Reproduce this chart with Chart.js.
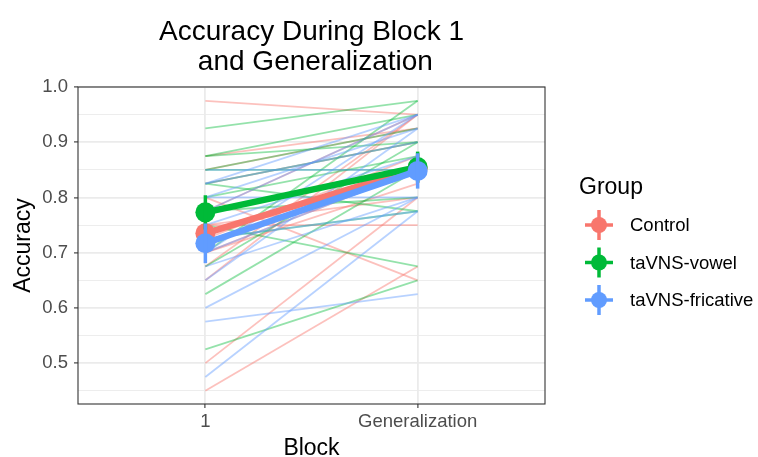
<!DOCTYPE html>
<html><head><meta charset="utf-8">
<script src="https://cdn.jsdelivr.net/npm/chart.js@4/dist/chart.umd.min.js"></script>
<style>html,body{margin:0;padding:0;background:#fff}#wrap{width:758px;height:457px}</style>
</head><body><div id="wrap"><canvas id="c" width="758" height="457"></canvas></div>
<script>
// ---------- data ----------
const blocks = ["1", "Generalization"];
const groups = ["Control", "taVNS-vowel", "taVNS-fricative"];
const groupColors = ["#F8766D", "#00BA38", "#619CFF"];
const groupFaint = ["rgba(248,118,109,0.45)", "rgba(0,186,56,0.42)", "rgba(97,156,255,0.45)"];

// individual participants: accuracy at Block 1 and at Generalization
const controlBlock1 = [0.975, 0.875, 0.85, 0.825, 0.80, 0.775, 0.75, 0.725, 0.70, 0.65, 0.70, 0.75, 0.50, 0.45, 0.675];
const controlGen    = [0.95, 0.925, 0.925, 0.90, 0.65, 0.95, 0.75, 0.875, 0.85, 0.95, 0.825, 0.80, 0.80, 0.675, 0.95];
const vowelBlock1   = [0.925, 0.875, 0.875, 0.85, 0.85, 0.825, 0.80, 0.775, 0.75, 0.725, 0.70, 0.675, 0.625, 0.525, 0.825];
const vowelGen      = [0.975, 0.90, 0.95, 0.925, 0.85, 0.90, 0.875, 0.80, 0.675, 0.775, 0.975, 0.90, 0.85, 0.65, 0.775];
const fricBlock1    = [0.85, 0.825, 0.825, 0.80, 0.80, 0.775, 0.75, 0.725, 0.70, 0.675, 0.65, 0.575, 0.475, 0.70, 0.60];
const fricGen       = [0.85, 0.95, 0.90, 0.925, 0.80, 0.95, 0.875, 0.775, 0.95, 0.80, 0.925, 0.625, 0.775, 0.85, 0.80];

// group means and standard errors (Block 1, Generalization)
const controlMean = [0.735, 0.853];
const controlSE   = [0.028, 0.027];
const vowelMean   = [0.773, 0.855];
const vowelSE     = [0.031, 0.028];
const fricMean    = [0.717, 0.848];
const fricSE      = [0.036, 0.032];

const yMajorTicks = [0.5, 0.6, 0.7, 0.8, 0.9, 1.0];
const yMinorTicks = [0.45, 0.55, 0.65, 0.75, 0.85, 0.95];

// ---------- build datasets ----------
const indiv = [[controlBlock1, controlGen], [vowelBlock1, vowelGen], [fricBlock1, fricGen]];
const means = [[controlMean, controlSE], [vowelMean, vowelSE], [fricMean, fricSE]];
const datasets = [];
const n = controlBlock1.length;
for (let i = 0; i < n; i++) {
  for (let g = 0; g < 3; g++) {
    const [b1, gen] = indiv[g];
    if (i < b1.length) {
      datasets.push({
        data: [{x: 0, y: b1[i]}, {x: 1, y: gen[i]}],
        borderColor: groupFaint[g], borderWidth: 1.8, pointRadius: 0, fill: false, tension: 0,
        isMean: false, order: 100 - g
      });
    }
  }
}
for (let g = 0; g < 3; g++) {
  const [m, se] = means[g];
  datasets.push({
    label: groups[g],
    data: [{x: 0, y: m[0]}, {x: 1, y: m[1]}],
    borderColor: groupColors[g], backgroundColor: groupColors[g],
    borderWidth: 6.5, pointRadius: 10, pointBorderWidth: 0, pointHoverRadius: 10,
    fill: false, tension: 0, isMean: true, se: se, order: 10 - g
  });
}

const FONT = "'Liberation Sans', Arial, Helvetica, sans-serif";
const isMajor = v => yMajorTicks.some(t => Math.abs(t - v) < 1e-6);

const decor = {
  id: 'decor',
  afterDatasetDraw(chart, args) {
    const ds = chart.data.datasets[args.index];
    if (!ds.isMean) return;
    const ctx = chart.ctx, xs = chart.scales.x, ys = chart.scales.y;
    ctx.save();
    ctx.strokeStyle = ds.borderColor; ctx.lineWidth = 3.5; ctx.lineCap = 'butt';
    ds.data.forEach((p, k) => {
      const px = xs.getPixelForValue(p.x);
      ctx.beginPath();
      ctx.moveTo(px, ys.getPixelForValue(p.y - ds.se[k]));
      ctx.lineTo(px, ys.getPixelForValue(p.y + ds.se[k]));
      ctx.stroke();
    });
    ctx.restore();
  },
  afterDraw(chart) {
    const ctx = chart.ctx, a = chart.chartArea;
    ctx.save();
    // panel border
    ctx.strokeStyle = '#333333'; ctx.lineWidth = 1.1;
    ctx.strokeRect(a.left, a.top, a.right - a.left, a.bottom - a.top);
    // title
    const cx = (a.left + a.right) / 2;
    ctx.fillStyle = '#000'; ctx.textAlign = 'center'; ctx.textBaseline = 'alphabetic';
    ctx.font = `28px ${FONT}`;
    ctx.fillText('Accuracy During Block 1', cx, 40);
    ctx.fillText(' and Generalization', cx, 70);
    // axis titles
    ctx.font = `23px ${FONT}`;
    ctx.fillText('Block', cx, 455);
    ctx.save();
    ctx.translate(30, (a.top + a.bottom) / 2);
    ctx.rotate(-Math.PI / 2);
    ctx.fillText('Accuracy', 0, 0);
    ctx.restore();
    // legend
    ctx.textAlign = 'left';
    ctx.font = `23px ${FONT}`;
    ctx.fillText('Group', 579, 194);
    ctx.font = `18.5px ${FONT}`;
    ctx.textBaseline = 'middle';
    const ly = [225, 262.5, 300];
    for (let g = 0; g < 3; g++) {
      const x0 = 599, y0 = ly[g];
      ctx.strokeStyle = groupColors[g]; ctx.fillStyle = groupColors[g];
      ctx.lineWidth = 3.5;
      ctx.beginPath(); ctx.moveTo(x0 - 14, y0); ctx.lineTo(x0 + 14, y0); ctx.stroke();
      ctx.beginPath(); ctx.moveTo(x0, y0 - 15); ctx.lineTo(x0, y0 + 15); ctx.stroke();
      ctx.beginPath(); ctx.arc(x0, y0, 8, 0, Math.PI * 2); ctx.fill();
      ctx.fillStyle = '#000';
      ctx.fillText(groups[g], 630, y0 + 1);
    }
    ctx.restore();
  }
};

new Chart(document.getElementById('c'), {
  type: 'line',
  data: { datasets },
  options: {
    responsive: false, animation: false, devicePixelRatio: 1,
    layout: { padding: { top: 87, right: 213, left: 0, bottom: 0 } },
    plugins: { legend: { display: false }, title: { display: false }, tooltip: { enabled: false } },
    scales: {
      x: {
        type: 'linear', min: -0.6, max: 1.6,
        afterBuildTicks: s => { s.ticks = blocks.map((b, i) => ({ value: i })); },
        afterFit: s => { s.height = 53; },
        ticks: { callback: v => blocks[v], color: '#4D4D4D', font: { family: FONT, size: 18.5 }, padding: 3, maxRotation: 0, autoSkip: false },
        grid: { color: '#EBEBEB', lineWidth: 1.8, tickColor: '#333333', tickLength: 4, tickWidth: 1.1 },
        border: { display: false }
      },
      y: {
        type: 'linear', min: 0.426, max: 1.0,
        afterBuildTicks: s => { s.ticks = yMinorTicks.concat(yMajorTicks).sort((p, q) => p - q).map(v => ({ value: v })); },
        afterFit: s => { s.width = 78; },
        ticks: { callback: v => isMajor(v) ? v.toFixed(1) : '', color: '#4D4D4D', font: { family: FONT, size: 18.5 }, padding: 6, autoSkip: false },
        grid: {
          color: '#EBEBEB',
          lineWidth: c => isMajor(c.tick.value) ? 1.8 : 0.9,
          tickColor: c => isMajor(c.tick.value) ? '#333333' : 'rgba(0,0,0,0)',
          tickLength: 4, tickWidth: 1.1
        },
        border: { display: false }
      }
    }
  },
  plugins: [decor]
});
</script></body></html>
